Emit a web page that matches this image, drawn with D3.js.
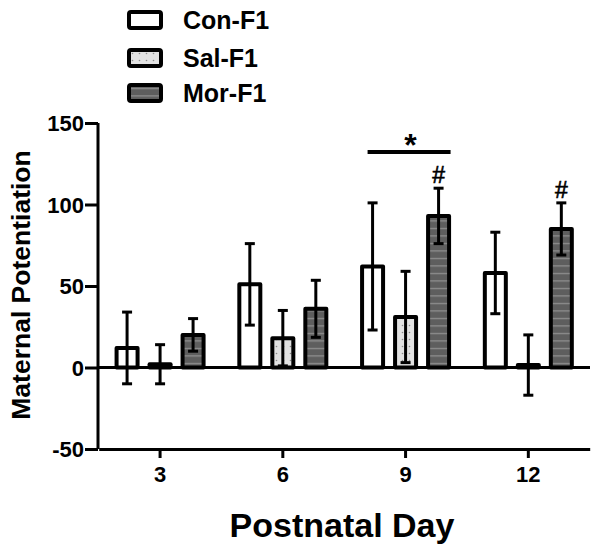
<!DOCTYPE html>
<html>
<head>
<meta charset="utf-8">
<script src="https://cdn.jsdelivr.net/npm/d3@7"></script>
<style>
body { margin: 0; background: #fff; }
svg { font-family: "Liberation Sans", Arial, sans-serif; }
</style>
</head>
<body>
<svg width="600" height="552"></svg>
<script>
var days = ["3", "6", "9", "12"];
var series = ["Con-F1", "Sal-F1", "Mor-F1"];
var conMean = [12, 51, 62, 58];
var salMean = [2, 18, 31, 1.5];
var morMean = [20, 36, 93, 85];
var conErr = [22, 25, 39, 25];
var salErr = [12, 17, 28, 18.5];
var morErr = [10, 17.5, 17, 16];
var yTicks = [-50, 0, 50, 100, 150];
// significance marks: "#" over Mor-F1 at day 9 and 12, "*" over day 9
var hashDays = ["9", "12"];
var starDay = "9";

var svg = d3.select("svg");

// patterns for the filled bars
var defs = svg.append("defs");
var dots = defs.append("pattern")
    .attr("id", "dots")
    .attr("patternUnits", "userSpaceOnUse")
    .attr("width", 7).attr("height", 7);
dots.append("rect").attr("width", 7).attr("height", 7).attr("fill", "#e2e2e2");
dots.append("circle").attr("cx", 3.5).attr("cy", 3.5).attr("r", 0.8).attr("fill", "#8a8a8a");

var stripes = defs.append("pattern")
    .attr("id", "stripes")
    .attr("patternUnits", "userSpaceOnUse")
    .attr("width", 8).attr("height", 7.5);
stripes.append("rect").attr("width", 8).attr("height", 7.5).attr("fill", "#5e5e5e");
stripes.append("rect").attr("y", 3).attr("width", 8).attr("height", 1).attr("fill", "#9c9c9c");

var fills = {"Con-F1": "#fff", "Sal-F1": "url(#dots)", "Mor-F1": "url(#stripes)"};

var x = d3.scaleBand().domain(days).range([98.7, 589.7]);
var xs = d3.scaleBand().domain(series).range([-49.5, 49.5]);
var y = d3.scaleLinear().domain([-50, 150]).range([449, 123]);

var rows = [];
days.forEach(function(d, i) {
    rows.push({day: d, s: "Con-F1", m: conMean[i], e: conErr[i]});
    rows.push({day: d, s: "Sal-F1", m: salMean[i], e: salErr[i]});
    rows.push({day: d, s: "Mor-F1", m: morMean[i], e: morErr[i]});
});
function cx(r) { return x(r.day) + x.bandwidth() / 2 + xs(r.s) + xs.bandwidth() / 2; }

var barW = 21;

// zero line
svg.append("line")
    .attr("x1", 98).attr("x2", 590)
    .attr("y1", y(0)).attr("y2", y(0))
    .attr("stroke", "#000").attr("stroke-width", 3);

var bars = svg.append("g").selectAll("rect").data(rows).join("rect")
    .attr("x", function(r) { return cx(r) - barW / 2; })
    .attr("y", function(r) { return y(Math.max(r.m, 0)); })
    .attr("width", barW)
    .attr("height", function(r) { return Math.abs(y(r.m) - y(0)); })
    .attr("fill", function(r) { return fills[r.s]; })
    .attr("stroke", "#000")
    .attr("stroke-width", 4)
    .attr("stroke-linejoin", "round");

var eb = svg.append("g").attr("stroke", "#000").attr("stroke-width", 3);
rows.forEach(function(r) {
    var c = cx(r);
    eb.append("line").attr("x1", c).attr("x2", c)
        .attr("y1", y(r.m + r.e)).attr("y2", y(r.m - r.e));
    eb.append("line").attr("x1", c - 5).attr("x2", c + 5)
        .attr("y1", y(r.m + r.e)).attr("y2", y(r.m + r.e));
    eb.append("line").attr("x1", c - 5).attr("x2", c + 5)
        .attr("y1", y(r.m - r.e)).attr("y2", y(r.m - r.e));
});

// axes
var yAxis = svg.append("g")
    .attr("transform", "translate(98,0)")
    .call(d3.axisLeft(y).tickValues(yTicks).tickFormat(function(d) { return String(d); })
        .tickSize(13).tickSizeOuter(0).tickPadding(1));
var xAxis = svg.append("g")
    .attr("transform", "translate(0,449)")
    .call(d3.axisBottom(x).tickSize(9).tickSizeOuter(0).tickPadding(8));
[yAxis, xAxis].forEach(function(a) {
    a.attr("font-size", null).attr("font-family", null);
    a.select(".domain").attr("stroke-width", 3);
    a.selectAll(".tick line").attr("stroke-width", 3);
    a.selectAll("text")
        .style("font-size", "22px").style("font-weight", "bold").attr("fill", "#000");
});
yAxis.select(".domain").attr("d", "M0," + y(-50) + "V" + y(150));
yAxis.selectAll(".tick text").attr("dy", "0.36em");

// axis titles
svg.append("text")
    .attr("transform", "translate(30,285) rotate(-90)")
    .attr("text-anchor", "middle")
    .style("font-size", "26.5px").style("font-weight", "bold")
    .text("Maternal Potentiation");
svg.append("text")
    .attr("x", 342).attr("y", 537)
    .attr("text-anchor", "middle")
    .style("font-size", "34px").style("font-weight", "bold")
    .text("Postnatal Day");

// significance
var d9 = x(starDay);
svg.append("line")
    .attr("x1", d9 + x.bandwidth() / 2 - 38).attr("x2", d9 + x.bandwidth() / 2 + 45)
    .attr("y1", 152).attr("y2", 152)
    .attr("stroke", "#000").attr("stroke-width", 4);
svg.append("text")
    .attr("x", d9 + x.bandwidth() / 2 + 5).attr("y", 156)
    .attr("text-anchor", "middle")
    .style("font-size", "32px").style("font-weight", "bold")
    .text("*");
rows.filter(function(r) { return r.s == "Mor-F1" && hashDays.indexOf(r.day) >= 0; })
    .forEach(function(r) {
        svg.append("text")
            .attr("x", cx(r)).attr("y", y(r.m + r.e) - 5)
            .attr("text-anchor", "middle")
            .style("font-size", "23px")
            .attr("stroke", "#000").attr("stroke-width", 0.6)
            .text("#");
    });

// legend
var leg = svg.append("g").selectAll("g").data(series).join("g")
    .attr("transform", function(d, i) { return "translate(129," + [12, 50, 85][i] + ")"; });
leg.append("rect")
    .attr("width", 32).attr("height", 16).attr("rx", 2)
    .attr("fill", function(d) { return fills[d]; })
    .attr("stroke", "#000").attr("stroke-width", 4);
leg.append("text")
    .attr("x", 54).attr("y", 8).attr("dy", "0.36em")
    .style("font-size", "25px").style("font-weight", "bold")
    .text(function(d) { return d; });
</script>
</body>
</html>
